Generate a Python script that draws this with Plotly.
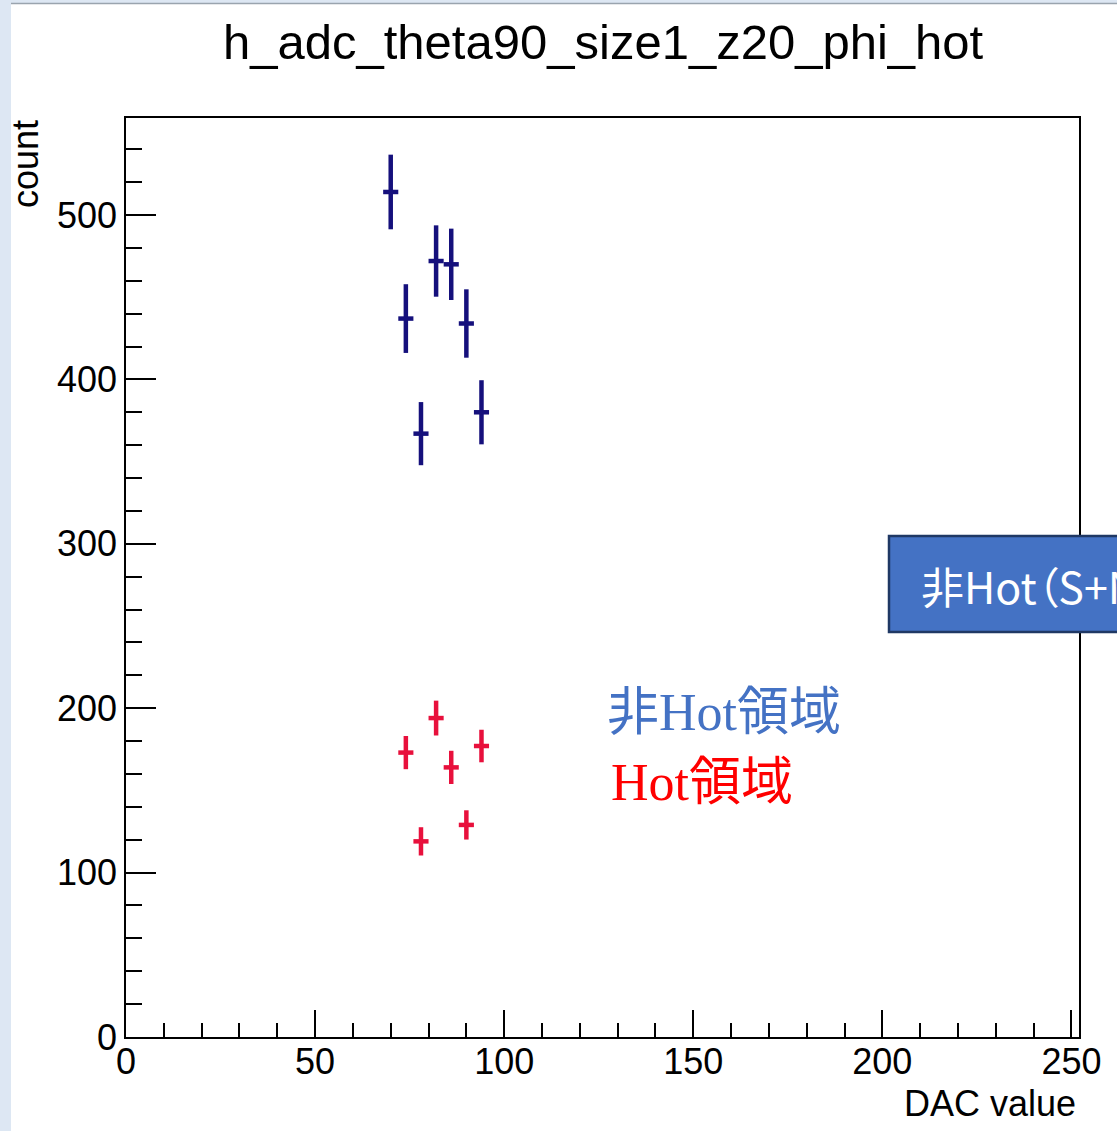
import plotly.graph_objects as go

# DAC bin centres (4-unit bins) and counts with their errors
dac_all = [70, 74, 78, 82, 86, 90, 94]
count_all = [514, 437, 367, 472, 470, 434, 380]
err_all = [22.7, 20.9, 19.2, 21.7, 21.7, 20.8, 19.5]

dac_hot = [74, 78, 82, 86, 90, 94]
count_hot = [173, 119, 194, 164, 129, 177]
err_hot = [10.1, 8.6, 10.6, 10.1, 8.9, 9.9]

bin_half = 2.0

W, H = 1117, 1131
L, R, T, B = 126, 38, 118, 94
PW, PH = W - L - R, H - T - B


def px(x):
    return (x - L) / PW


def py(y):
    return (H - B - y) / PH


fig = go.Figure()


def add_hist(xs, ys, es, color, thick):
    fig.add_trace(go.Scatter(
        x=xs, y=ys, mode="markers",
        marker=dict(size=1, color=color, opacity=0),
        error_x=dict(type="data", array=[bin_half] * len(xs), width=0,
                     thickness=thick, color=color),
        error_y=dict(type="data", array=es, width=0,
                     thickness=thick, color=color),
        showlegend=False, hoverinfo="x+y",
    ))


add_hist(dac_all, count_all, err_all, "#15107c", 4.5)
add_hist(dac_hot, count_hot, err_hot, "#e8103c", 4.5)

axis_font = dict(family="Liberation Sans, Arial, sans-serif", size=36, color="black")

fig.update_xaxes(
    range=[0, 252], showgrid=False, zeroline=False,
    showline=True, linecolor="black", linewidth=1.5, mirror=True,
    ticks="inside", ticklen=27, tickwidth=1.5, tickcolor="black",
    tick0=0, dtick=50, tickfont=axis_font, ticklabelstandoff=-8,
    minor=dict(ticks="inside", ticklen=14, dtick=10, tickwidth=1.5,
               tickcolor="black", showgrid=False),
)
fig.update_yaxes(
    range=[0, 559], showgrid=False, zeroline=False,
    showline=True, linecolor="black", linewidth=1.5, mirror=True,
    ticks="inside", ticklen=30, tickwidth=1.5, tickcolor="black",
    tick0=0, dtick=100, tickfont=axis_font,
    minor=dict(ticks="inside", ticklen=16, dtick=20, tickwidth=1.5,
               tickcolor="black", showgrid=False),
)

shapes = [
    # left side strip and top border of the slide
    dict(type="rect", xref="paper", yref="paper", x0=px(0), x1=px(11),
         y0=py(H), y1=py(0), fillcolor="#dde7f3", line_width=0, layer="below"),
    dict(type="rect", xref="paper", yref="paper", x0=px(0), x1=px(W),
         y0=py(3), y1=py(0), fillcolor="#dde7f3", line_width=0, layer="below"),
    dict(type="line", xref="paper", yref="paper", x0=px(11), x1=px(W),
         y0=py(3.5), y1=py(3.5), line=dict(color="#9aa4ae", width=1.5)),
    # blue callout box at the right
    dict(type="rect", xref="paper", yref="paper", x0=px(889), x1=px(W + 20),
         y0=py(632), y1=py(536), fillcolor="#4472c4",
         line=dict(color="#1f3864", width=2.5), layer="above"),
]

box_font = dict(family="Noto Sans CJK JP", size=43, color="white")
label_font = "Liberation Serif, Noto Sans CJK JP"

# proportional-width opening bracket in the callout
palt = "<span style='font-feature-settings:\"palt\"'>{}</span>"

annotations = [
    dict(text="h_adc_theta90_size1_z20_phi_hot", xref="paper", yref="paper",
         x=px(603), y=py(42), xanchor="center", yanchor="middle", showarrow=False,
         font=dict(family="Liberation Sans, Arial, sans-serif", size=49, color="black")),
    dict(text="count", xref="paper", yref="paper", x=px(25), y=py(118),
         xanchor="center", yanchor="top", textangle=-90, showarrow=False,
         font=axis_font),
    dict(text="DAC value", xref="paper", yref="paper", x=px(1078), y=py(1103),
         xanchor="right", yanchor="middle", showarrow=False, font=axis_font),
    dict(text="非Hot領域", xref="paper", yref="paper", x=px(605), y=py(712),
         xanchor="left", yanchor="middle", showarrow=False,
         font=dict(family=label_font, size=52, color="#4472c4")),
    dict(text="Hot領域", xref="paper", yref="paper", x=px(609), y=py(782),
         xanchor="left", yanchor="middle", showarrow=False,
         font=dict(family=label_font, size=52, color="#ff0000")),
    dict(text="非Hot" + palt.format("（") + "S+N）",
         xref="paper", yref="paper", x=px(919), y=py(585),
         xanchor="left", yanchor="middle", showarrow=False, font=box_font),
]

fig.update_layout(
    width=W, height=H,
    margin=dict(l=L, r=R, t=T, b=B, pad=0),
    paper_bgcolor="white", plot_bgcolor="white",
    shapes=shapes, annotations=annotations,
    showlegend=False,
)

fig.write_html("out.html")
